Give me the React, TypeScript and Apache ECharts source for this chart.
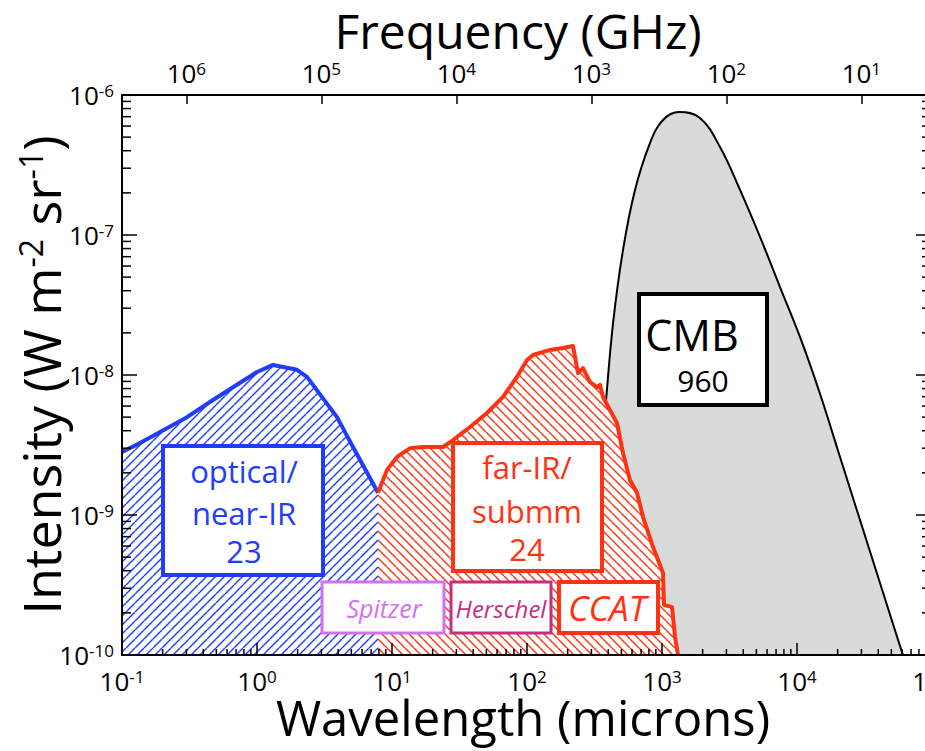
import React, { useEffect, useRef } from 'react';
import * as echarts from 'echarts';

// ---------- data ----------
const opticalWavelength = [0.1, 0.136, 0.303, 0.472, 1.0, 1.314, 1.978, 2.346, 3.913, 5.14, 7.88];
const opticalIntensity = [2.82e-9, 3.27e-9, 5.0e-9, 6.63e-9, 1.05e-8, 1.18e-8, 1.09e-8, 9.7e-9, 5.0e-9, 3.06e-9, 1.44e-9];

const farIrWavelength = [7.88, 9.18, 10.9, 13.6, 16.97, 23.9, 28.3, 37.8, 50.5, 66.4, 84.3, 100, 110.8, 148, 184.8, 219, 226.7, 238.7, 259.9, 292.9, 330, 347.4, 365.6, 412, 464, 514, 579, 653, 723, 858, 1017, 1035, 1186, 1248, 1314];
const farIrIntensity = [1.44e-9, 2.1e-9, 2.6e-9, 3.0e-9, 3.06e-9, 3.06e-9, 3.43e-9, 4.25e-9, 5.35e-9, 6.97e-9, 9.7e-9, 1.28e-8, 1.39e-8, 1.51e-8, 1.56e-8, 1.61e-8, 1.35e-8, 1.03e-8, 1.12e-8, 8.9e-9, 8.2e-9, 8.5e-9, 6.97e-9, 5.6e-9, 4.54e-9, 2.77e-9, 1.78e-9, 1.44e-9, 9.7e-10, 5.9e-10, 3.86e-10, 2.28e-10, 2.2e-10, 1.35e-10, 1e-10];

const cmbWavelength = [273.6, 293, 330, 385, 434, 514, 631, 815, 1017, 1336, 1911, 2690, 3783, 5321, 7482, 10520, 14800, 20820, 29290, 41190, 57940, 60950];
const cmbIntensity = [1e-10, 2.47e-10, 1.28e-9, 6.63e-9, 2.35e-8, 7.8e-8, 2.1e-7, 4.54e-7, 6.63e-7, 7.56e-7, 6.85e-7, 4.25e-7, 2.1e-7, 9.7e-8, 4.25e-8, 1.87e-8, 7.35e-9, 2.6e-9, 9.2e-10, 3.27e-10, 1.16e-10, 1e-10];

// axis ranges
const wavelengthRange = [0.1, 1e5];
const intensityRange = [1e-10, 1e-6];
const C_GHZ_MICRON = 2.998e5; // frequency(GHz) = c / wavelength(micron)

// box annotations
const opticalLabel = ['optical/', 'near-IR', '23'];
const farIrLabel = ['far-IR/', 'submm', '24'];
const cmbLabel = ['CMB', '960'];
const missionLabels = ['Spitzer', 'Herschel', 'CCAT'];

const FONT = '"Open Sans", "Noto Sans", sans-serif';
const BLUE = '#1f3cff';
const RED = '#ff3212';
const GRAY = '#d9dada';
const SPITZER = '#d470f2';
const HERSCHEL = '#c42f80';

function makeHatch(color: string, dir: number) {
  const s = 9;
  const c = document.createElement('canvas');
  c.width = s;
  c.height = s;
  const ctx = c.getContext('2d')!;
  ctx.fillStyle = '#ffffff';
  ctx.fillRect(0, 0, s, s);
  ctx.strokeStyle = color;
  ctx.lineWidth = 1.4;
  for (const k of [-s, 0, s]) {
    ctx.beginPath();
    if (dir > 0) {
      ctx.moveTo(k, s);
      ctx.lineTo(k + s, 0);
    } else {
      ctx.moveTo(k, 0);
      ctx.lineTo(k + s, s);
    }
    ctx.stroke();
  }
  return c;
}

function powLabel(v: number) {
  const e = Math.log10(v);
  const r = Math.round(e);
  if (Math.abs(e - r) > 1e-6) return '';
  return '{b|10}{s|' + r + '}';
}

const labelRich = {
  b: { fontSize: 26, fontFamily: FONT, color: '#000', lineHeight: 26 },
  s: { fontSize: 17, fontFamily: FONT, color: '#000', verticalAlign: 'top', lineHeight: 15 },
};

function textEl(text: string, x: number, y: number, size: number, color: string, italic = false) {
  return {
    type: 'text',
    x,
    y,
    z: 101,
    style: {
      text,
      fill: color,
      fontSize: size,
      fontFamily: FONT,
      fontStyle: italic ? 'italic' : 'normal',
      align: 'center',
      verticalAlign: 'middle',
    },
  };
}

function boxEl(x: number, y: number, w: number, h: number, stroke: string, lw: number) {
  return {
    type: 'rect',
    z: 100,
    shape: { x, y, width: w, height: h },
    style: { fill: '#ffffff', stroke, lineWidth: lw },
  };
}

export default function App() {
  const ref = useRef<HTMLDivElement>(null);

  useEffect(() => {
    if (!ref.current) return;
    const chart = echarts.init(ref.current, undefined, { renderer: 'svg' });

    const blueHatch = makeHatch(BLUE, 1);
    const redHatch = makeHatch(RED, -1);

    // minor tick positions (log decades 2..9)
    const minorTicks: number[][] = [];
    for (let e = -1; e < 5; e++) {
      for (let m = 2; m <= 9; m++) minorTicks.push([m * Math.pow(10, e), intensityRange[0], 0]);
    }
    for (let e = -10; e < -6; e++) {
      for (let m = 2; m <= 9; m++) minorTicks.push([wavelengthRange[0], m * Math.pow(10, e), 1]);
    }

    const option: any = {
      animation: false,
      backgroundColor: '#ffffff',
      textStyle: { fontFamily: FONT },
      grid: { left: 122, right: -7, top: 95, bottom: 96, containLabel: false, outerBoundsMode: 'none' },
      xAxis: [
        {
          type: 'log',
          logBase: 10,
          min: wavelengthRange[0],
          max: wavelengthRange[1],
          position: 'bottom',
          z: 10,
          axisLine: { show: true, onZero: false, lineStyle: { color: '#000', width: 2 } },
          axisTick: { show: true, inside: true, length: 12, lineStyle: { color: '#000', width: 1.5 } },
          axisLabel: { formatter: powLabel, rich: labelRich, margin: 13, showMinLabel: true, showMaxLabel: true },
          splitLine: { show: false },
          name: 'Wavelength (microns)',
          nameLocation: 'middle',
          nameGap: 40,
          nameMoveOverlap: false,
          nameTextStyle: { fontSize: 49, lineHeight: 44, fontFamily: FONT, color: '#000', padding: [0, 8, 0, 0] },
        },
        {
          type: 'log',
          logBase: 10,
          min: C_GHZ_MICRON / wavelengthRange[1],
          max: C_GHZ_MICRON / wavelengthRange[0],
          inverse: true,
          position: 'top',
          z: 10,
          axisLine: { show: true, onZero: false, lineStyle: { color: '#000', width: 2 } },
          axisTick: { show: true, inside: true, length: 9, lineStyle: { color: '#000', width: 1.5 } },
          axisLabel: { formatter: powLabel, rich: labelRich, margin: 9 },
          splitLine: { show: false },
          name: 'Frequency (GHz)',
          nameLocation: 'middle',
          nameGap: 40,
          nameMoveOverlap: false,
          nameTextStyle: { fontSize: 48, lineHeight: 50, fontFamily: FONT, color: '#000', padding: [0, 18, 0, 0] },
        },
      ],
      yAxis: [
        {
          type: 'log',
          logBase: 10,
          min: intensityRange[0],
          max: intensityRange[1],
          position: 'left',
          z: 10,
          axisLine: { show: true, onZero: false, lineStyle: { color: '#000', width: 2 } },
          axisTick: { show: true, inside: true, length: 15, lineStyle: { color: '#000', width: 1.5 } },
          axisLabel: { formatter: powLabel, rich: labelRich, margin: 8, showMinLabel: true, showMaxLabel: true },
          splitLine: { show: false },
          name: 'Intensity (W m{s|-2} sr{s|-1})',
          nameLocation: 'middle',
          nameRotate: 90,
          nameGap: 56,
          nameMoveOverlap: false,
          nameTextStyle: {
            fontSize: 52,
            fontFamily: FONT,
            color: '#000',
            rich: {
              s: { fontSize: 32, fontFamily: FONT, color: '#000', verticalAlign: 'top', lineHeight: 30 },
            },
          },
        },
        {
          type: 'log',
          logBase: 10,
          min: intensityRange[0],
          max: intensityRange[1],
          position: 'right',
          z: 10,
          axisLine: { show: true, onZero: false, lineStyle: { color: '#000', width: 2 } },
          axisTick: { show: true, inside: true, length: 16, lineStyle: { color: '#000', width: 1.5 } },
          axisLabel: { show: false },
          splitLine: { show: false },
        },
      ],
      series: [
        {
          name: 'CMB',
          type: 'line',
          xAxisIndex: 0,
          yAxisIndex: 0,
          data: cmbWavelength.map((w, i) => [w, cmbIntensity[i]]),
          smooth: 0.4,
          symbol: 'none',
          z: 2,
          lineStyle: { color: '#000', width: 2 },
          areaStyle: { color: GRAY, opacity: 1, origin: 'start' },
        },
        {
          name: 'optical/near-IR',
          type: 'line',
          xAxisIndex: 0,
          yAxisIndex: 0,
          data: opticalWavelength.map((w, i) => [w, opticalIntensity[i]]),
          symbol: 'none',
          z: 3,
          lineStyle: { color: BLUE, width: 4, join: 'round' },
          areaStyle: { color: { image: blueHatch, repeat: 'repeat', imageWidth: 9, imageHeight: 9 }, opacity: 1, origin: 'start' },
        },
        {
          name: 'far-IR/submm',
          type: 'line',
          xAxisIndex: 0,
          yAxisIndex: 0,
          data: farIrWavelength.map((w, i) => [w, farIrIntensity[i]]),
          symbol: 'none',
          z: 4,
          lineStyle: { color: RED, width: 4, join: 'round' },
          areaStyle: { color: { image: redHatch, repeat: 'repeat', imageWidth: 9, imageHeight: 9 }, opacity: 1, origin: 'start' },
        },
        {
          name: 'minor ticks',
          type: 'custom',
          xAxisIndex: 0,
          yAxisIndex: 0,
          silent: true,
          z: 20,
          data: minorTicks,
          renderItem: (params: any, api: any) => {
            const kind = api.value(2);
            const p = api.coord([api.value(0), api.value(1)]);
            const cs = params.coordSys;
            const st = { stroke: '#000', lineWidth: 1.5 };
            if (kind === 0) {
              const yb = cs.y + cs.height;
              return { type: 'line', shape: { x1: p[0], y1: yb, x2: p[0], y2: yb - 6 }, style: st };
            }
            return {
              type: 'group',
              children: [
                { type: 'line', shape: { x1: cs.x, y1: p[1], x2: cs.x + 9, y2: p[1] }, style: st },
                { type: 'line', shape: { x1: cs.x + cs.width, y1: p[1], x2: cs.x + cs.width - 10, y2: p[1] }, style: st },
              ],
            };
          },
        },
      ],
      graphic: [
        boxEl(163, 446, 160, 129, BLUE, 4),
        textEl(opticalLabel[0], 244, 471, 31, BLUE),
        textEl(opticalLabel[1], 244, 513, 31, BLUE),
        textEl(opticalLabel[2], 244, 551, 31, BLUE),

        boxEl(453, 443, 149, 128, RED, 4),
        textEl(farIrLabel[0], 527, 467, 31, RED),
        textEl(farIrLabel[1], 527, 511, 31, RED),
        textEl(farIrLabel[2], 527, 549, 31, RED),

        boxEl(639, 294, 128, 111, '#000', 4),
        textEl(cmbLabel[0], 692, 334, 43, '#000'),
        textEl(cmbLabel[1], 703, 380, 30, '#000'),

        boxEl(322, 582, 122, 51, SPITZER, 3),
        textEl(missionLabels[0], 384, 608, 25, SPITZER, true),

        boxEl(451, 582, 100, 51, HERSCHEL, 3),
        textEl(missionLabels[1], 501, 608, 24, HERSCHEL, true),

        boxEl(559, 582, 99, 51, RED, 4),
        textEl(missionLabels[2], 607, 607, 35, RED, true),
      ],
    };

    chart.setOption(option);
    return () => chart.dispose();
  }, []);

  return <div ref={ref} style={{ position: 'absolute', left: 0, top: 0, width: 925, height: 751 }} />;
}
